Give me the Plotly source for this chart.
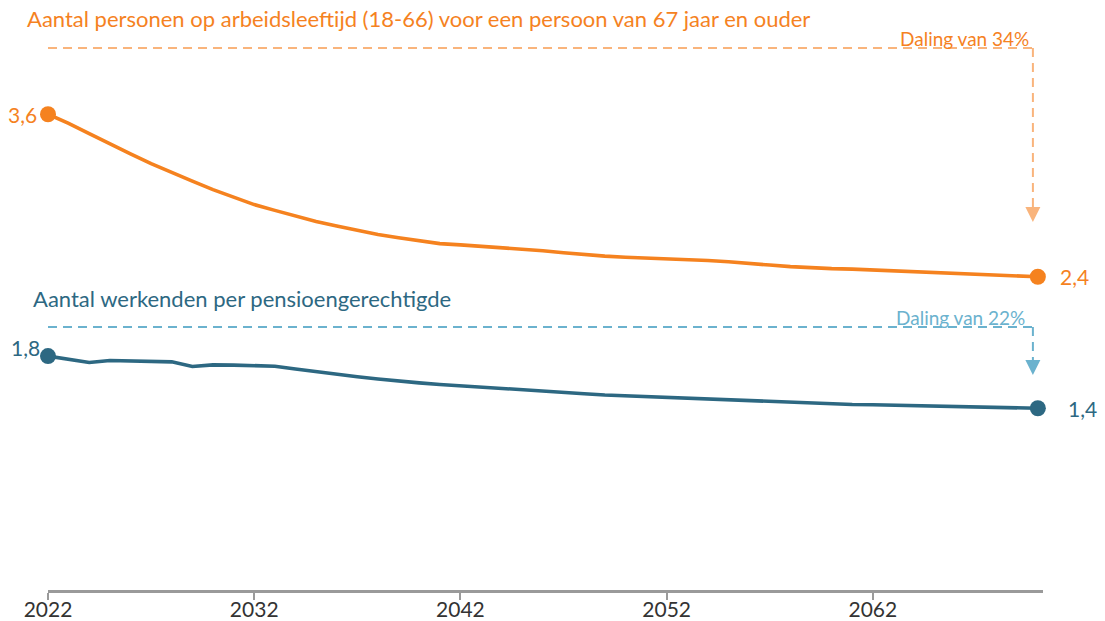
import plotly.graph_objects as go

years = list(range(2022, 2071))

arbeidsleeftijd_ratio = [
    3.638, 3.569, 3.490, 3.411, 3.337, 3.262, 3.193, 3.129, 3.065, 3.005,
    2.951, 2.907, 2.862, 2.822, 2.788, 2.753, 2.724, 2.699, 2.674, 2.654,
    2.645, 2.635, 2.625, 2.615, 2.600, 2.585, 2.570, 2.559, 2.551, 2.546,
    2.541, 2.536, 2.526, 2.516, 2.506, 2.491, 2.479, 2.470, 2.464, 2.460,
    2.454, 2.447, 2.440, 2.434, 2.430, 2.424, 2.417, 2.410, 2.402,
]

werkenden_ratio = [
    1.799, 1.775, 1.750, 1.765, 1.762, 1.758, 1.755, 1.720, 1.732, 1.730,
    1.727, 1.722, 1.700, 1.679, 1.659, 1.642, 1.625, 1.608, 1.595, 1.583,
    1.574, 1.565, 1.554, 1.543, 1.532, 1.523, 1.513, 1.503, 1.497, 1.491,
    1.486, 1.480, 1.473, 1.465, 1.458, 1.451, 1.444, 1.438, 1.434, 1.431,
    1.429, 1.426, 1.422, 1.418, 1.415, 1.412, 1.409, 1.406, 1.402,
]

tick_years = [2022, 2032, 2042, 2052, 2062]
tick_labels = ["2022", "2032", "2042", "2052", "2062"]

title_orange = "Aantal personen op arbeidsleeftijd (18-66) voor een persoon van 67 jaar en ouder"
title_blue = "Aantal werkenden per pensioengerechtigde"
daling_orange = "Daling van 34%"
daling_blue = "Daling van 22%"

ORANGE = "#F5821F"
ORANGE_LIGHT = "#F9B47C"
BLUE = "#2D6882"
BLUE_LIGHT = "#6BB2CE"
FONT = "Lato"

fig = go.Figure()

for vals, col in [(arbeidsleeftijd_ratio, ORANGE), (werkenden_ratio, BLUE)]:
    fig.add_trace(go.Scatter(
        x=years, y=vals, mode="lines",
        line=dict(color=col, width=3.6),
        hoverinfo="skip", showlegend=False, cliponaxis=False,
    ))
    fig.add_trace(go.Scatter(
        x=[years[0], years[-1]], y=[vals[0], vals[-1]], mode="markers",
        marker=dict(color=col, size=16),
        hoverinfo="skip", showlegend=False, cliponaxis=False,
    ))

def fmt(v):
    return f"{v:.1f}".replace(".", ",")

anns = []
# value labels
anns.append(dict(x=years[0], y=arbeidsleeftijd_ratio[0], text=fmt(arbeidsleeftijd_ratio[0]),
                 xanchor="right", yanchor="middle", xshift=-9, showarrow=False,
                 font=dict(color=ORANGE, size=21, family=FONT)))
anns.append(dict(x=years[-1], y=arbeidsleeftijd_ratio[-1], text=fmt(arbeidsleeftijd_ratio[-1]),
                 xanchor="left", yanchor="middle", xshift=20, showarrow=False,
                 font=dict(color=ORANGE, size=21, family=FONT)))
anns.append(dict(x=years[0], y=werkenden_ratio[0], text=fmt(werkenden_ratio[0]),
                 xanchor="right", yanchor="middle", xshift=-6, yshift=9, showarrow=False,
                 font=dict(color=BLUE, size=21, family=FONT)))
anns.append(dict(x=years[-1], y=werkenden_ratio[-1], text=fmt(werkenden_ratio[-1]),
                 xanchor="left", yanchor="middle", xshift=28, showarrow=False,
                 font=dict(color=BLUE, size=21, family=FONT)))
# titles
anns.append(dict(xref="paper", yref="paper", x=-0.0231, y=1.0, text=title_orange,
                 xanchor="left", yanchor="middle", showarrow=False,
                 font=dict(color=ORANGE, size=22, family=FONT)))
anns.append(dict(xref="paper", yref="y", x=-0.0171, y=2.24, text=title_blue,
                 xanchor="left", yanchor="middle", showarrow=False,
                 font=dict(color=BLUE, size=22, family=FONT)))

# decline brackets
arrow_x = 2069.76
top_o, tip_o = 4.141, 2.818
top_b, tip_b = 2.020, 1.655
anns.append(dict(x=arrow_x, y=top_o, text=daling_orange, xanchor="right", yanchor="bottom",
                 showarrow=False, xshift=-2, yshift=-4, font=dict(color=ORANGE, size=19, family=FONT)))
anns.append(dict(x=arrow_x, y=top_b, text=daling_blue, xanchor="right", yanchor="bottom",
                 showarrow=False, xshift=-6, yshift=-4, font=dict(color=BLUE_LIGHT, size=19, family=FONT)))

shapes = []
px_per_unit = 572 / (4.37 - 0.02)
for top, tip, col in [(top_o, tip_o, ORANGE_LIGHT), (top_b, tip_b, BLUE_LIGHT)]:
    base = tip + 15 / px_per_unit
    shapes.append(dict(type="line", x0=years[0], x1=arrow_x, y0=top, y1=top,
                       line=dict(color=col, width=2, dash="9px,6px")))
    shapes.append(dict(type="line", x0=arrow_x, x1=arrow_x, y0=top, y1=base,
                       line=dict(color=col, width=2, dash="9px,6px")))
    shapes.append(dict(type="path", xsizemode="pixel", ysizemode="pixel",
                       xanchor=arrow_x, yanchor=tip,
                       path="M -7.5 15 L 7.5 15 L 0 0 Z",
                       fillcolor=col, line=dict(width=0)))

fig.update_layout(
    width=1105, height=621,
    margin=dict(l=48, r=62, t=18, b=31),
    plot_bgcolor="white", paper_bgcolor="white",
    annotations=anns, shapes=shapes,
    xaxis=dict(range=[2022, 2070.25], showgrid=False, zeroline=False, automargin=False,
               showline=True, linecolor="#9A9A9A", linewidth=3,
               ticks="outside", ticklen=7, tickwidth=2, tickcolor="#9A9A9A",
               ticklabelstandoff=-8,
               tickvals=tick_years, ticktext=tick_labels,
               tickfont=dict(size=21, color="#333333", family=FONT)),
    yaxis=dict(range=[0.02, 4.37], visible=False, showgrid=False, zeroline=False),
)

fig.write_html("out.html", config={"displayModeBar": False},
               post_script="document.body.style.margin='0';document.body.style.overflow='hidden';")
